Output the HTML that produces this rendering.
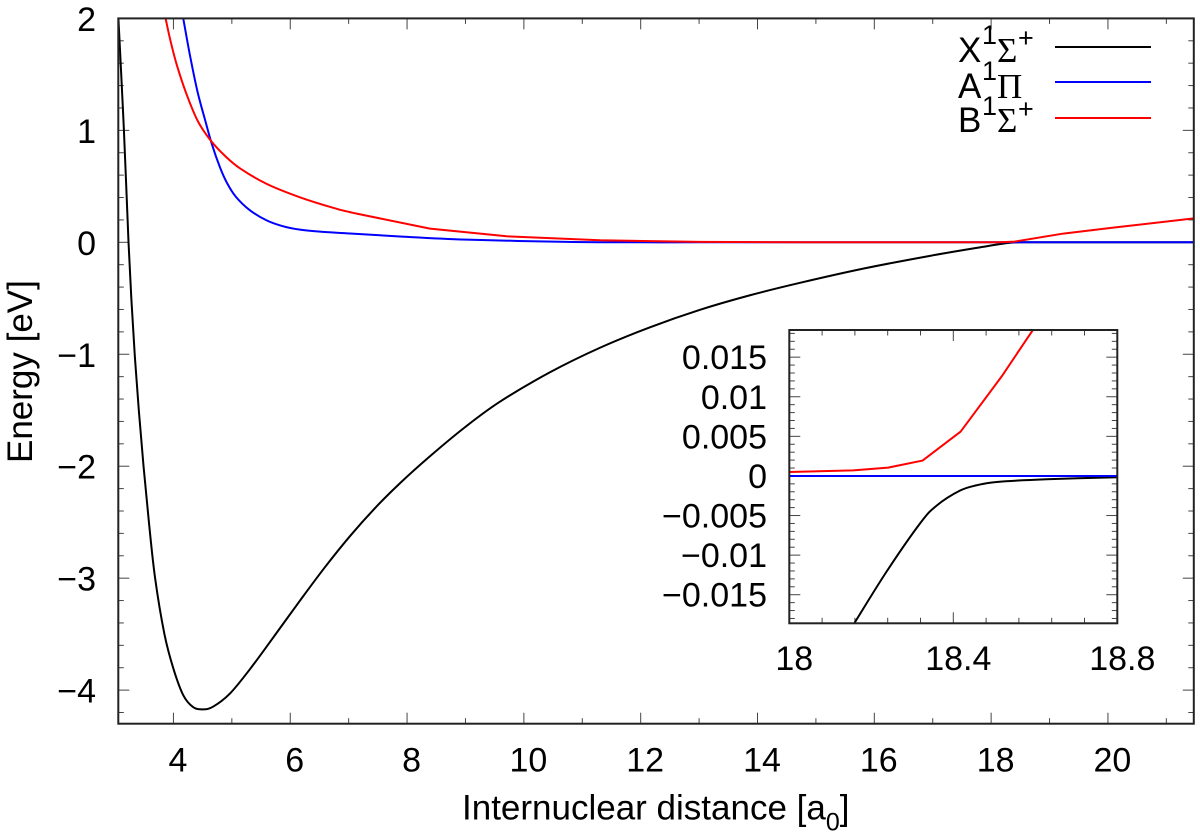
<!DOCTYPE html>
<html lang="en">
<head>
<meta charset="utf-8">
<title>Potential energy curves</title>
<style>
html,body{margin:0;padding:0;background:#fff;}
svg{display:block;}
text{font-family:"Liberation Sans",sans-serif;fill:#000;}
.tick{font-size:34px;}
.serif{font-family:"Liberation Serif",serif;}
</style>
</head>
<body>
<svg id="chart" xmlns="http://www.w3.org/2000/svg" width="1200" height="837" viewBox="0 0 1200 837">
  <rect width="1200" height="837" fill="#fff"/>
  <defs>
    <clipPath id="clipMain"><rect x="118.3" y="18.4" width="1075.5" height="705.3"/></clipPath>
    <clipPath id="clipInset"><rect x="789.3" y="330" width="328" height="293.3"/></clipPath>
  </defs>
  <g id="main"></g>
  <g id="inset"></g>
  <text x="462" y="819.3" font-size="35">Internuclear distance [a<tspan font-size="25" dy="11">0</tspan><tspan dy="-11">]</tspan></text>
  <text transform="translate(32 463) rotate(-90)" font-size="35">Energy [eV]</text>
  <g>
    <g>
      <text x="958" y="62" font-size="35">X</text>
      <text x="982" y="44" font-size="27">1</text>
      <text class="serif" x="997" y="62" font-size="35">Σ</text>
      <text x="1018" y="47" font-size="27">+</text>
      <line x1="1055" x2="1151" y1="47" y2="47" stroke="#000" stroke-width="2"/>
    </g>
    <g>
      <text x="958" y="98" font-size="35">A</text>
      <text x="982" y="80" font-size="27">1</text>
      <text class="serif" x="997" y="98" font-size="35">Π</text>
      <line x1="1055" x2="1151" y1="82" y2="82" stroke="#00f" stroke-width="2"/>
    </g>
    <g>
      <text x="958" y="132" font-size="35">B</text>
      <text x="982" y="115" font-size="27">1</text>
      <text class="serif" x="997" y="132" font-size="35">Σ</text>
      <text x="1018" y="118" font-size="27">+</text>
      <line x1="1055" x2="1151" y1="118" y2="118" stroke="#f00" stroke-width="2"/>
    </g>
  </g>
</svg>
<script>
// Main plot data
const blackX = [3.058,3.106,3.152,3.192,3.231,3.279,3.337,3.407,3.488,3.58,3.686,3.846,3.997,4.168,4.339,4.51,4.682,4.967,5.31,5.738,6.166,6.594,7.022,7.45,7.878,8.392,8.991,9.59,10.447,11.303,12.159,13.015,13.872,14.728,15.841,16.954,17.81,18.324,18.666,19,20,21.47];
const blackY = [2,1.5,1,0.5,0,-0.5,-1,-1.5,-2,-2.5,-3,-3.5,-3.804,-4.045,-4.152,-4.172,-4.147,-4.031,-3.813,-3.509,-3.201,-2.902,-2.625,-2.375,-2.152,-1.911,-1.652,-1.424,-1.161,-0.942,-0.759,-0.603,-0.473,-0.362,-0.232,-0.121,-0.045,-0.004,0,0,0,0];
const blueX = [4.168,4.283,4.411,4.539,4.659,4.796,4.916,5.07,5.31,5.596,5.88,6.166,6.509,7.022,7.878,9.021,10.733,11.988,13,15,18,21.47];
const blueY = [2,1.67,1.348,1.098,0.875,0.67,0.531,0.406,0.286,0.196,0.143,0.113,0.095,0.079,0.052,0.024,0.004,0,0,0,0,0];
const redX = [3.866,3.94,4.055,4.226,4.42,4.643,4.883,5.139,5.596,6.166,6.736,7.137,8.392,9.705,11.303,13.015,14.728,18.15,18.4,19.236,20.09,21.47];
const redY = [2,1.821,1.589,1.321,1.08,0.906,0.772,0.661,0.522,0.402,0.308,0.256,0.122,0.054,0.018,0.004,0,0,0.006,0.078,0.131,0.214];
const mainXTicks = [4,6,8,10,12,14,16,18,20];
const mainXMinor = [5,7,9,11,13,15,17,19,21];
const mainYTicks = [2,1,0,-1,-2,-3,-4];
const mainYMinor = [1.8,1.6,1.4,1.2,0.8,0.6,0.4,0.2,-0.2,-0.4,-0.6,-0.8,-1.2,-1.4,-1.6,-1.8,-2.2,-2.4,-2.6,-2.8,-3.2,-3.4,-3.6,-3.8,-4.2];

// Inset data
const insetBlackX = [18.158,18.237,18.319,18.359,18.416,18.457,18.506,18.628,18.8];
const insetBlackY = [-0.01865,-0.0121,-0.00599,-0.00376,-0.00186,-0.00118,-0.00076,-0.00042,-0.00017];
const insetBlueX = [18,18.8];
const insetBlueY = [0,0];
const insetRedX = [18,18.156,18.241,18.325,18.418,18.518,18.595];
const insetRedY = [0.0005,0.0007,0.00105,0.00194,0.0056,0.01257,0.0185];
const insetXTicks = [18,18.4,18.8];
const insetXLabels = ['18','18.4','18.8'];
const insetXMinor = [18.08,18.16,18.24,18.32,18.48,18.56,18.64,18.72];
const insetYTicks = [0.015,0.01,0.005,0,-0.005,-0.01,-0.015];
const insetYLabels = ['0.015','0.01','0.005','0','\u22120.005','\u22120.01','\u22120.015'];
const insetYMinor = [0.018,0.017,0.016,0.014,0.013,0.012,0.011,0.009,0.008,0.007,0.006,0.004,0.003,0.002,0.001,-0.001,-0.002,-0.003,-0.004,-0.006,-0.007,-0.008,-0.009,-0.011,-0.012,-0.013,-0.014,-0.016,-0.017,-0.018];

const NS = 'http://www.w3.org/2000/svg';

function axisFn(d0, d1, p0, p1) {
  return function (v) { return p0 + (v - d0) / (d1 - d0) * (p1 - p0); };
}
const mainLeft = 118.3, mainRight = 1193.8, mainTop = 18.4, mainBottom = 723.7;
const mx = axisFn(3.056, 21.47, mainLeft, mainRight);
const my = axisFn(2, -4.3, mainTop, mainBottom);
const inLeft = 789.3, inRight = 1117.3, inTop = 330, inBottom = 623.3;
const ix = axisFn(18, 18.8, inLeft, inRight);
const iy = axisFn(0.01843, -0.01861, inTop, inBottom);

function el(parent, tag, attrs) {
  const n = document.createElementNS(NS, tag);
  for (const k in attrs) n.setAttribute(k, attrs[k]);
  parent.appendChild(n);
  return n;
}

// smoothUntil: segments starting before this index use a Catmull-Rom spline, the rest are straight
function curvePath(xs, ys, fx, fy, smoothUntil) {
  const p = xs.map(function (x, i) { return [fx(x), fy(ys[i])]; });
  let d = 'M' + p[0][0].toFixed(2) + ' ' + p[0][1].toFixed(2);
  for (let i = 0; i < p.length - 1; i++) {
    if (i >= smoothUntil) {
      d += 'L' + p[i + 1][0].toFixed(2) + ' ' + p[i + 1][1].toFixed(2);
    } else {
      const a = p[Math.max(i - 1, 0)], b = p[i], c = p[i + 1], e = p[Math.min(i + 2, p.length - 1)];
      const c1x = b[0] + (c[0] - a[0]) / 6, c1y = b[1] + (c[1] - a[1]) / 6;
      const c2x = c[0] - (e[0] - b[0]) / 6, c2y = c[1] - (e[1] - b[1]) / 6;
      d += 'C' + c1x.toFixed(2) + ' ' + c1y.toFixed(2) + ' ' + c2x.toFixed(2) + ' ' + c2y.toFixed(2) + ' ' + c[0].toFixed(2) + ' ' + c[1].toFixed(2);
    }
  }
  return d;
}

function drawTicks(g, o) {
  o.xMajor.forEach(function (v) {
    const x = o.fx(v);
    const t1 = el(g, 'line', {x1: x, x2: x, y1: o.bottom, y2: o.bottom - o.major, stroke: '#444', 'stroke-width': 1});
    
    
    const t2 = el(g, 'line', {x1: x, x2: x, y1: o.top, y2: o.top + o.major, stroke: '#444', 'stroke-width': 1});
    
    
  });
  o.xMinor.forEach(function (v) {
    const x = o.fx(v);
    const t1 = el(g, 'line', {x1: x, x2: x, y1: o.bottom, y2: o.bottom - o.minor, stroke: '#444', 'stroke-width': 1});
    
    
    const t2 = el(g, 'line', {x1: x, x2: x, y1: o.top, y2: o.top + o.minor, stroke: '#444', 'stroke-width': 1});
    
    
  });
  o.yMajor.forEach(function (v) {
    const y = o.fy(v);
    const t1 = el(g, 'line', {x1: o.left, x2: o.left + o.major, y1: y, y2: y, stroke: '#444', 'stroke-width': 1});
    
    
    const t2 = el(g, 'line', {x1: o.right, x2: o.right - o.major, y1: y, y2: y, stroke: '#444', 'stroke-width': 1});
    
    
  });
  o.yMinor.forEach(function (v) {
    const y = o.fy(v);
    const t1 = el(g, 'line', {x1: o.left, x2: o.left + o.minor, y1: y, y2: y, stroke: '#444', 'stroke-width': 1});
    
    
    const t2 = el(g, 'line', {x1: o.right, x2: o.right - o.minor, y1: y, y2: y, stroke: '#444', 'stroke-width': 1});
    
    
  });
}

function drawCurve(g, xs, ys, fx, fy, color, clip, smoothUntil, name) {
  const c = el(g, 'path', {d: curvePath(xs, ys, fx, fy, smoothUntil), fill: 'none', stroke: color, 'stroke-width': 2, 'stroke-linejoin': 'round', 'clip-path': 'url(#' + clip + ')'});
  
  
}

function drawFrame(g, l, t, r, b, name) {
  const f = el(g, 'rect', {x: l, y: t, width: r - l, height: b - t, fill: 'none', stroke: '#222', 'stroke-width': 2});
  
  
}

function drawLabel(g, x, y, str, anchor, name) {
  const t = el(g, 'text', {x: x, y: y, 'text-anchor': anchor, class: 'tick'});
  t.textContent = str;
  
  
}

// Main plot
const gMain = document.getElementById('main');
drawTicks(gMain, {fx: mx, fy: my, left: mainLeft, right: mainRight, top: mainTop, bottom: mainBottom, major: 11, minor: 5.5, xMajor: mainXTicks, xMinor: mainXMinor, yMajor: mainYTicks, yMinor: mainYMinor});
drawCurve(gMain, blackX, blackY, mx, my, '#000', 'clipMain', blackX.length, 'curve-x-state');
drawCurve(gMain, blueX, blueY, mx, my, '#00f', 'clipMain', blueX.length, 'curve-a-state');
drawCurve(gMain, redX, redY, mx, my, '#f00', 'clipMain', 11, 'curve-b-state');
drawFrame(gMain, mainLeft, mainTop, mainRight, mainBottom, 'main-plot-frame');
mainXTicks.forEach(function (v) {
  drawLabel(gMain, mx(v) + 4.5, 771.7, String(v), 'middle', 'x-tick-label');
});
mainYTicks.forEach(function (v) {
  const s = v < 0 ? '\u2212' + Math.abs(v) : String(v);
  drawLabel(gMain, 96, my(v) + 12.5, s, 'end', 'y-tick-label');
});

// Inset plot
const gInset = document.getElementById('inset');
el(gInset, 'rect', {x: inLeft, y: inTop, width: inRight - inLeft, height: inBottom - inTop, fill: '#fff'});
drawTicks(gInset, {fx: ix, fy: iy, left: inLeft, right: inRight, top: inTop, bottom: inBottom, major: 11, minor: 5.5, xMajor: insetXTicks, xMinor: insetXMinor, yMajor: insetYTicks, yMinor: insetYMinor});
drawCurve(gInset, insetBlackX, insetBlackY, ix, iy, '#000', 'clipInset', insetBlackX.length, 'inset-curve-x-state');
drawCurve(gInset, insetRedX, insetRedY, ix, iy, '#f00', 'clipInset', 0, 'inset-curve-b-state');
drawCurve(gInset, insetBlueX, insetBlueY, ix, iy, '#00f', 'clipInset', 0, 'inset-curve-a-state');
drawFrame(gInset, inLeft, inTop, inRight, inBottom, 'inset-plot-frame');
insetXTicks.forEach(function (v, i) {
  drawLabel(gInset, ix(v) + 5, 670, insetXLabels[i], 'middle', 'inset-x-tick-label');
});
insetYTicks.forEach(function (v, i) {
  drawLabel(gInset, 767, iy(v) + 12, insetYLabels[i], 'end', 'inset-y-tick-label');
});
</script>
</body>
</html>
